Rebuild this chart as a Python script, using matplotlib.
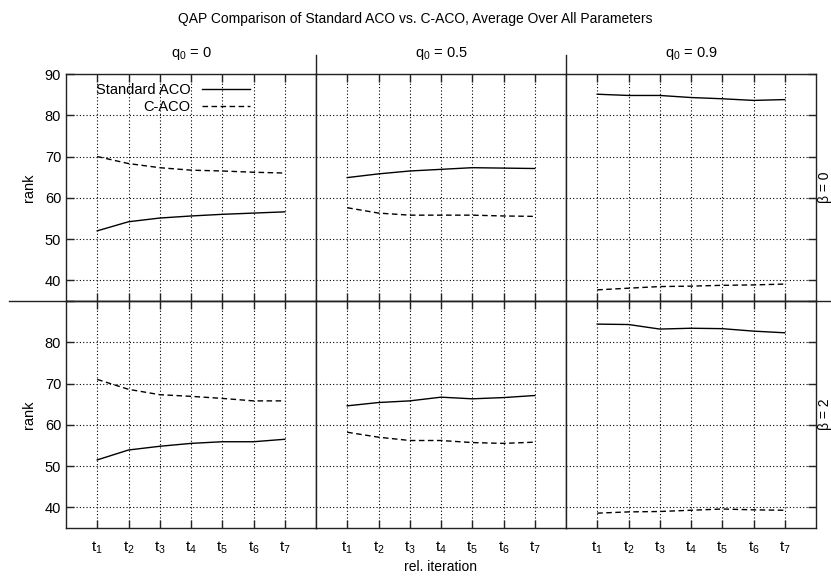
import numpy as np
import matplotlib
matplotlib.use("Agg")
import matplotlib.pyplot as plt
from matplotlib.lines import Line2D

plt.rcParams['font.family'] = ['Liberation Sans', 'DejaVu Sans']
plt.rcParams['mathtext.fontset'] = 'custom'
plt.rcParams['mathtext.rm'] = 'Liberation Sans'
plt.rcParams['mathtext.default'] = 'regular'

# data
iterations = [1, 2, 3, 4, 5, 6, 7]
tick_labels = ['$t_%d$' % i for i in iterations]
q0_labels = ['$q_0$ = 0', '$q_0$ = 0.5', '$q_0$ = 0.9']
beta_labels = ['β = 0', 'β = 2']

# beta = 0 row
std_b0_q0 = [52.0, 54.2, 55.1, 55.6, 56.0, 56.3, 56.6]
cac_b0_q0 = [70.0, 68.3, 67.3, 66.7, 66.5, 66.2, 66.0]
std_b0_q5 = [64.9, 65.8, 66.5, 66.9, 67.3, 67.2, 67.1]
cac_b0_q5 = [57.6, 56.3, 55.8, 55.8, 55.8, 55.6, 55.5]
std_b0_q9 = [85.1, 84.8, 84.8, 84.3, 84.0, 83.6, 83.8]
cac_b0_q9 = [37.7, 38.1, 38.5, 38.6, 38.8, 38.9, 39.1]
# beta = 2 row
std_b2_q0 = [51.5, 53.9, 54.8, 55.5, 55.9, 55.9, 56.5]
cac_b2_q0 = [71.0, 68.6, 67.3, 66.9, 66.4, 65.8, 65.8]
std_b2_q5 = [64.6, 65.4, 65.8, 66.7, 66.3, 66.6, 67.1]
cac_b2_q5 = [58.2, 57.0, 56.2, 56.2, 55.7, 55.5, 55.8]
std_b2_q9 = [84.4, 84.3, 83.2, 83.4, 83.3, 82.7, 82.3]
cac_b2_q9 = [38.6, 38.9, 39.0, 39.3, 39.6, 39.4, 39.3]

standard = [[std_b0_q0, std_b0_q5, std_b0_q9], [std_b2_q0, std_b2_q5, std_b2_q9]]
caco = [[cac_b0_q0, cac_b0_q5, cac_b0_q9], [cac_b2_q0, cac_b2_q5, cac_b2_q9]]

W, H = 831, 577
fig = plt.figure(figsize=(W / 100, H / 100), dpi=100)

col_x = [66, 316, 566, 816]
row_y = [74, 301, 528]
edge = '#222222'

for r in range(2):
    for c in range(3):
        x0, x1 = col_x[c], col_x[c + 1]
        y0, y1 = row_y[r], row_y[r + 1]
        ax = fig.add_axes([x0 / W, 1 - y1 / H, (x1 - x0) / W, (y1 - y0) / H])
        ax.plot(iterations, standard[r][c], color='black', lw=1.0, label='Standard ACO')
        ax.plot(iterations, caco[r][c], color='black', lw=1.0, dashes=(4, 2.5), label='C-ACO')
        ax.set_xlim(0, 8)
        ax.set_ylim(35, 90)
        ax.set_xticks(iterations)
        ax.set_yticks([40, 50, 60, 70, 80, 90])
        ax.grid(True, color='black', linestyle=(0, (1, 2)), lw=0.8)
        for s in ax.spines.values():
            s.set_color(edge)
            s.set_linewidth(1.0)
        ax.tick_params(direction='in', length=6, width=1.0, color=edge,
                       labelsize=10.5, top=True, bottom=True,
                       left=(c == 0), right=(c == 2),
                       labelleft=(c == 0), labelright=False,
                       labelbottom=(r == 1))
        ax.tick_params(axis='x', pad=8, labelsize=11)
        if r == 1:
            ax.set_xticklabels(tick_labels)
        if c == 0:
            ax.set_ylabel('rank', fontsize=10.5, labelpad=6)
            if r == 1:
                ax.set_yticklabels(['40', '50', '60', '70', '80', ''])
        if r == 0 and c == 0:
            ax.legend(loc='upper right', bbox_to_anchor=(250 / W, 1 - 83 / H),
                      bbox_transform=fig.transFigure, frameon=False, markerfirst=False,
                      fontsize=10.5, handlelength=3.3, handletextpad=0.8,
                      labelspacing=0.2, borderpad=0, borderaxespad=0)
        if r == 1 and c == 1:
            ax.set_xlabel('rel. iteration', fontsize=10, labelpad=3)

# separators between the panels
fig.add_artist(Line2D([9 / W, 1], [1 - 301 / H, 1 - 301 / H], color=edge, lw=1.0))
for x in col_x[1:3]:
    fig.add_artist(Line2D([x / W, x / W], [1 - 55 / H, 1 - 74 / H], color=edge, lw=1.0))

# column and row headers
for c in range(3):
    fig.text((col_x[c] + col_x[c + 1]) / 2 / W, 1 - 53 / H, q0_labels[c],
             ha='center', va='center', fontsize=10.5)
for r in range(2):
    fig.text(818 / W, 1 - (row_y[r] + row_y[r + 1]) / 2 / H, beta_labels[r],
             rotation=90, ha='left', va='center', fontsize=10)

fig.text(415 / W, 1 - 19 / H, 'QAP Comparison of Standard ACO vs. C-ACO, Average Over All Parameters',
         ha='center', va='center', fontsize=10)

fig.savefig('out.png', dpi=100)
